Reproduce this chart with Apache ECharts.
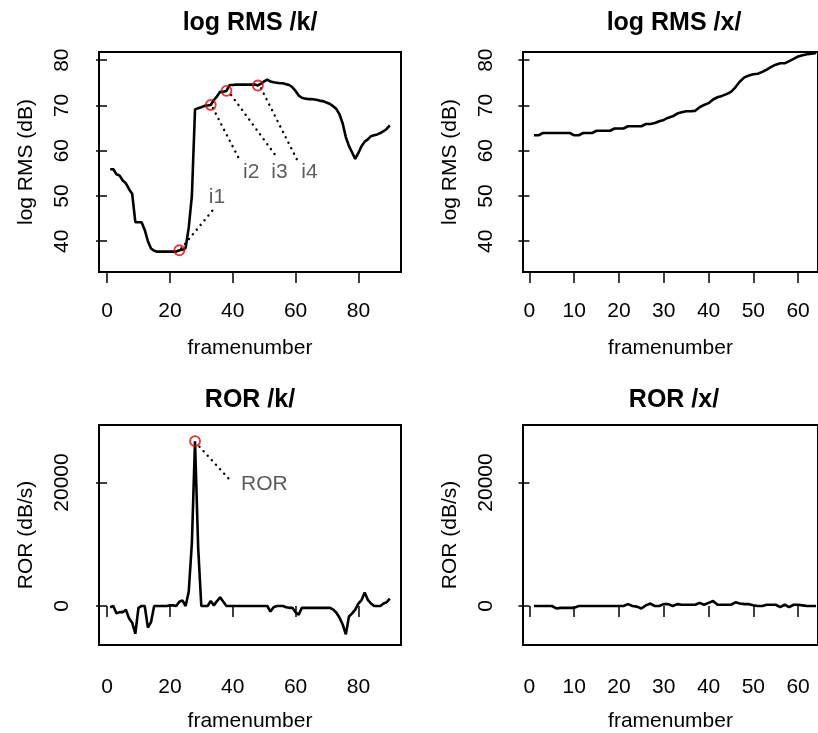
<!DOCTYPE html>
<html><head><meta charset="utf-8">
<script src="https://cdn.jsdelivr.net/npm/echarts@6/dist/echarts.min.js"></script>
<style>html,body{margin:0;padding:0;background:#fff}#c{width:818px;height:733px}</style>
</head><body><div id="c"></div>
<script>
// log RMS /k/ (dB), frames 1..90
const rmsK = [55.9,55.9,54.8,54.5,53.4,52.8,51.5,50.5,44.2,44.2,
  44.2,42.5,40.0,38.4,37.9,37.7,37.7,37.7,37.7,37.7,
  37.7,37.7,38.0,38.1,38.5,43.0,50.0,69.1,69.4,69.6,
  69.9,70.0,70.1,71.2,72.0,73.0,73.0,73.2,74.5,74.5,
  74.6,74.6,74.6,74.6,74.6,74.6,74.6,74.4,74.8,75.3,
  75.7,75.3,75.1,75.0,74.9,74.9,74.7,74.5,74.0,73.2,
  72.2,71.7,71.5,71.4,71.4,71.3,71.2,71.0,70.9,70.6,
  70.3,69.8,69.2,68.0,66.0,63.0,61.0,59.6,58.2,59.5,
  61.0,62.0,62.5,63.2,63.4,63.6,63.9,64.3,64.8,65.6];
// log RMS /x/ (dB), frames 1..64 (right part cut off by the picture edge)
const rmsX = [63.4,63.4,63.9,63.9,63.9,63.9,63.9,63.9,63.9,63.4,
  63.4,63.9,63.9,63.9,64.4,64.4,64.4,64.4,64.9,64.9,
  64.9,65.4,65.4,65.4,65.4,65.9,65.9,66.1,66.5,66.8,
  67.3,67.6,68.2,68.5,68.7,68.7,68.8,69.6,70.1,70.5,
  71.3,71.8,72.1,72.5,73.0,74.0,75.3,76.2,76.6,76.9,
  77.0,77.4,77.9,78.5,79.0,79.3,79.3,79.8,80.3,80.8,
  81.1,81.3,81.4,81.6];
// ROR /k/ (dB/s), frames 1..90
const rorK = [-200,0,-1200,-1000,-1000,-600,-2000,-2700,-4500,-300,
  0,0,-3500,-2600,0,0,0,0,0,100,
  100,0,700,900,0,2300,10200,26700,9500,0,
  0,0,800,100,800,1400,700,0,0,0,
  0,0,0,0,0,0,0,0,0,0,
  0,-900,-200,0,0,0,-200,-300,-300,-1000,
  -1400,-300,-300,-300,-300,-300,-300,-300,-300,-300,
  -300,-600,-1100,-1900,-3000,-4600,-1700,-1200,-600,400,
  950,2200,1000,400,0,0,0,400,600,1200];
// ROR /x/ (dB/s), frames 1..64
const rorX = [0,0,0,0,0,-400,-300,-300,-300,-300,
  0,0,0,0,0,0,0,0,0,0,
  0,300,0,-100,-400,100,400,0,0,300,
  300,0,300,200,200,200,200,500,200,500,
  800,200,200,200,200,600,400,300,300,100,
  0,0,200,200,200,-200,200,-200,200,200,
  100,0,0,0];

const titles = ['log RMS /k/', 'log RMS /x/', 'ROR /k/', 'ROR /x/'];
const xName = 'framenumber';
const yNames = ['log RMS (dB)', 'log RMS (dB)', 'ROR (dB/s)', 'ROR (dB/s)'];
const xTicksK = [0, 20, 40, 60, 80];
const xTicksX = [0, 10, 20, 30, 40, 50, 60];
const yTicksRMS = [40, 50, 60, 70, 80];
const yTicksROR = [0, 20000];

// annotations on log RMS /k/
const markFramesK = [23, 33, 38, 48];
const markLabelsK = ['i1', 'i2', 'i3', 'i4'];
const markLabelPosK = [[35, 49.8], [45.9, 55.2], [54.9, 55.2], [64.4, 55.2]];
const markLeadersK = [
  [[23.6, 38.4], [33.7, 46.9]],
  [[33.7, 69.4], [42.1, 58.1]],
  [[39.5, 72.3], [53.8, 58.8]],
  [[49.0, 73.8], [61.2, 57.0]]
];
// annotation on ROR /k/
const rorMarkFrame = 28;
const rorLabel = 'ROR';
const rorLabelPos = [50.1, 19730];
const rorLeader = [[29.4, 25810], [38.9, 20520]];

const FONT = "'Liberation Sans',Arial,sans-serif";
const toXY = arr => arr.map((v, i) => [i + 1, v]);

const grids = [
  {left: 99, top: 52, width: 302, height: 220},
  {left: 523, top: 52, width: 302, height: 220},
  {left: 99, top: 425, width: 302, height: 222},
  {left: 523, top: 425, width: 302, height: 222}
].map(g => Object.assign(g, {show: true, borderColor: '#000', borderWidth: 2, backgroundColor: '#fff', containLabel: false}));

const xRanges = [[-2.56, 93.56], [-1.44, 64.44], [-2.56, 93.56], [-1.44, 64.44]];
const xTicks = [xTicksK, xTicksX, xTicksK, xTicksX];
const yRanges = [[33.2, 81.8], [33.2, 81.8], [-6320, 29320], [-6320, 29320]];
const yTicks = [yTicksRMS, yTicksRMS, yTicksROR, yTicksROR];

const labelStyle = {color: '#000', fontFamily: FONT, fontSize: 21};
const xAxis = grids.map((g, i) => ({
  type: 'value', gridIndex: i, min: xRanges[i][0], max: xRanges[i][1],
  name: xName, nameLocation: 'middle', nameGap: i < 2 ? 66 : 66,
  nameTextStyle: {color: '#000', fontFamily: FONT, fontSize: 21},
  axisLine: {show: false},
  axisTick: {show: true, inside: false, length: 11, customValues: xTicks[i], lineStyle: {color: '#000', width: 1.5}},
  axisLabel: Object.assign({show: true, margin: i < 2 ? 29 : 32, customValues: xTicks[i], formatter: v => String(v)}, labelStyle),
  splitLine: {show: false}
}));
const yAxis = grids.map((g, i) => ({
  type: 'value', gridIndex: i, min: yRanges[i][0], max: yRanges[i][1],
  name: yNames[i], nameLocation: 'middle', nameGap: 62, nameRotate: 90,
  nameTextStyle: {color: '#000', fontFamily: FONT, fontSize: 21},
  axisLine: {show: false},
  axisTick: {show: true, inside: false, length: 11, customValues: yTicks[i], lineStyle: {color: '#000', width: 1.5}},
  axisLabel: Object.assign({show: true, margin: 26, rotate: 90, customValues: yTicks[i], formatter: v => String(v)}, labelStyle),
  splitLine: {show: false}
}));

const lineSeries = (data, idx) => ({
  type: 'line', xAxisIndex: idx, yAxisIndex: idx, data: toXY(data),
  symbol: 'none', lineStyle: {color: '#000', width: 2.6}, z: 3, silent: true
});
const dotted = (pts, idx) => ({
  type: 'line', xAxisIndex: idx, yAxisIndex: idx, data: pts, symbol: 'none',
  lineStyle: {color: '#000', width: 2.4, type: [0.1, 6], cap: 'round'}, z: 4, silent: true
});
const circles = (pts, idx) => ({
  type: 'scatter', xAxisIndex: idx, yAxisIndex: idx, data: pts, symbol: 'circle', symbolSize: 10,
  itemStyle: {color: 'rgba(0,0,0,0)', borderColor: '#e00000', borderWidth: 1.8}, z: 5, silent: true
});
const texts = (items, idx) => ({
  type: 'scatter', xAxisIndex: idx, yAxisIndex: idx, data: items, symbolSize: 1,
  itemStyle: {color: 'rgba(0,0,0,0)'},
  label: {show: true, position: 'inside', formatter: '{b}', color: '#333', fontFamily: FONT, fontSize: 21},
  z: 6, silent: true
});

const series = [
  lineSeries(rmsK, 0), lineSeries(rmsX, 1), lineSeries(rorK, 2), lineSeries(rorX, 3)
];
markLeadersK.forEach(l => series.push(dotted(l, 0)));
series.push(circles(markFramesK.map(f => [f, rmsK[f - 1]]), 0));
series.push(texts(markLabelsK.map((t, i) => ({name: t, value: markLabelPosK[i]})), 0));
series.push(dotted(rorLeader, 2));
series.push(circles([[rorMarkFrame, rorK[rorMarkFrame - 1]]], 2));
series.push(texts([{name: rorLabel, value: rorLabelPos}], 2));

const titlePos = [[250, 23], [674, 23], [250, 400], [674, 400]];
const graphic = titles.map((t, i) => ({
  type: 'text', x: titlePos[i][0], y: titlePos[i][1],
  style: {text: t, fill: '#000', font: "bold 25px " + FONT, textAlign: 'center', textVerticalAlign: 'middle'}
}));

const chart = echarts.init(document.getElementById('c'), null, {renderer: 'canvas'});
chart.setOption({animation: false, backgroundColor: '#fff', grid: grids, xAxis, yAxis, series, graphic});
</script></body></html>
